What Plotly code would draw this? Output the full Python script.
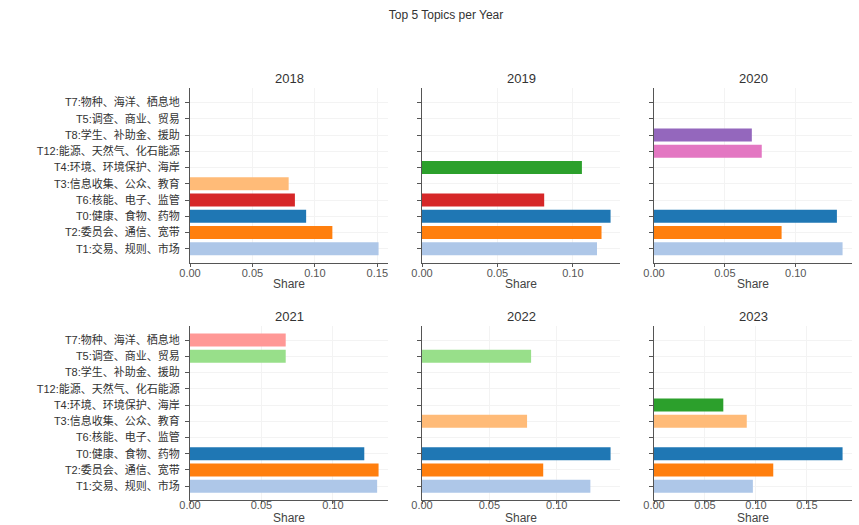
import plotly.graph_objects as go
from plotly.subplots import make_subplots

# Topic labels, bottom to top on every panel
topics = [
    "T1:交易、规则、市场",
    "T2:委员会、通信、宽带",
    "T0:健康、食物、药物",
    "T6:核能、电子、监管",
    "T3:信息收集、公众、教育",
    "T4:环境、环境保护、海岸",
    "T12:能源、天然气、化石能源",
    "T8:学生、补助金、援助",
    "T5:调查、商业、贸易",
    "T7:物种、海洋、栖息地",
]

# Colour of each topic (category20 palette by topic number)
topic_colors = {
    "T0": "#1f77b4", "T1": "#aec7e8", "T2": "#ff7f0e", "T3": "#ffbb78",
    "T4": "#2ca02c", "T5": "#98df8a", "T6": "#d62728", "T7": "#ff9896",
    "T8": "#9467bd", "T12": "#e377c2",
}

years = ["2018", "2019", "2020", "2021", "2022", "2023"]

# Top five topics and their shares per year
topics_2018 = ["T1:交易、规则、市场", "T2:委员会、通信、宽带", "T0:健康、食物、药物",
               "T6:核能、电子、监管", "T3:信息收集、公众、教育"]
share_2018 = [0.151, 0.114, 0.093, 0.084, 0.079]

topics_2019 = ["T1:交易、规则、市场", "T2:委员会、通信、宽带", "T0:健康、食物、药物",
               "T6:核能、电子、监管", "T4:环境、环境保护、海岸"]
share_2019 = [0.116, 0.119, 0.125, 0.081, 0.106]

topics_2020 = ["T1:交易、规则、市场", "T2:委员会、通信、宽带", "T0:健康、食物、药物",
               "T12:能源、天然气、化石能源", "T8:学生、补助金、援助"]
share_2020 = [0.133, 0.090, 0.129, 0.076, 0.069]

topics_2021 = ["T1:交易、规则、市场", "T2:委员会、通信、宽带", "T0:健康、食物、药物",
               "T5:调查、商业、贸易", "T7:物种、海洋、栖息地"]
share_2021 = [0.131, 0.132, 0.122, 0.067, 0.067]

topics_2022 = ["T1:交易、规则、市场", "T2:委员会、通信、宽带", "T0:健康、食物、药物",
               "T3:信息收集、公众、教育", "T5:调查、商业、贸易"]
share_2022 = [0.125, 0.090, 0.140, 0.078, 0.081]

topics_2023 = ["T1:交易、规则、市场", "T2:委员会、通信、宽带", "T0:健康、食物、药物",
               "T3:信息收集、公众、教育", "T4:环境、环境保护、海岸"]
share_2023 = [0.097, 0.117, 0.185, 0.091, 0.068]

panel_topics = [topics_2018, topics_2019, topics_2020, topics_2021, topics_2022, topics_2023]
panel_shares = [share_2018, share_2019, share_2020, share_2021, share_2022, share_2023]

FONT = "Liberation Sans, Arial, 'Noto Sans CJK SC', sans-serif"
AXIS_COLOR = "#555555"
GRID_COLOR = "#f3f3f3"
PLOT_H = 412      # height of the plotting area in px (525 - top 88 - bottom 25)
PLOT_BOTTOM = 500  # px from the top of the page to the bottom of the plotting area

fig = make_subplots(
    rows=2, cols=3,
    subplot_titles=years,
    shared_yaxes=True,
    horizontal_spacing=34 / 662,
    vertical_spacing=63 / PLOT_H,
)

for i, (names, vals) in enumerate(zip(panel_topics, panel_shares)):
    row, col = i // 3 + 1, i % 3 + 1
    colors = [topic_colors[n.split(":")[0]] for n in names]
    fig.add_trace(
        go.Bar(x=vals, y=names, orientation="h", marker=dict(color=colors, line_width=0),
               showlegend=False),
        row=row, col=col,
    )
    fig.update_xaxes(range=[0, max(vals) * 1.05], row=row, col=col)
    # x-axis caption under each panel
    axis_id = "x" if i == 0 else f"x{i + 1}"
    if row == 1:
        cap = dict(y=(PLOT_BOTTOM - 284) / PLOT_H, yanchor="middle")
    else:
        cap = dict(y=-25 / PLOT_H, yanchor="bottom", height=11)
    fig.add_annotation(
        text="Share", xref=f"{axis_id} domain", x=0.5, yref="paper",
        xanchor="center", showarrow=False, **cap,
        font=dict(size=12, color="#444", family=FONT),
    )

fig.update_xaxes(
    dtick=0.05, tickformat=".2f",
    showline=True, linecolor=AXIS_COLOR, linewidth=1,
    ticks="outside", ticklen=3, tickcolor=AXIS_COLOR,
    showgrid=True, gridcolor=GRID_COLOR, zeroline=False,
    tickfont=dict(size=11, color="#555"),
    automargin=False,
)
fig.update_xaxes(ticklabelstandoff=-3, row=1)
fig.update_xaxes(ticklabelstandoff=-8, row=2)
fig.update_yaxes(
    type="category", categoryorder="array", categoryarray=topics,
    range=[-0.85, 9.9],
    showline=True, linecolor=AXIS_COLOR, linewidth=1,
    ticks="outside", ticklen=4, tickcolor=AXIS_COLOR,
    showgrid=True, gridcolor=GRID_COLOR, zeroline=False,
    tickfont=dict(size=11, color="#333"),
    ticklabelstandoff=3,
    automargin=False,
)

for ann in fig.layout.annotations:
    if ann.text in years:
        ann.font = dict(size=13, color="#333", family=FONT)

fig.update_layout(
    width=859, height=525,
    margin=dict(l=190, r=7, t=88, b=25),
    title=dict(text="Top 5 Topics per Year", x=446 / 859, xanchor="center",
               y=1 - 15 / 525, yanchor="middle", font=dict(size=12, color="#333")),
    font=dict(family=FONT, color="#444"),
    plot_bgcolor="white", paper_bgcolor="white",
    bargap=0.2,
)

fig.write_html("out.html")
